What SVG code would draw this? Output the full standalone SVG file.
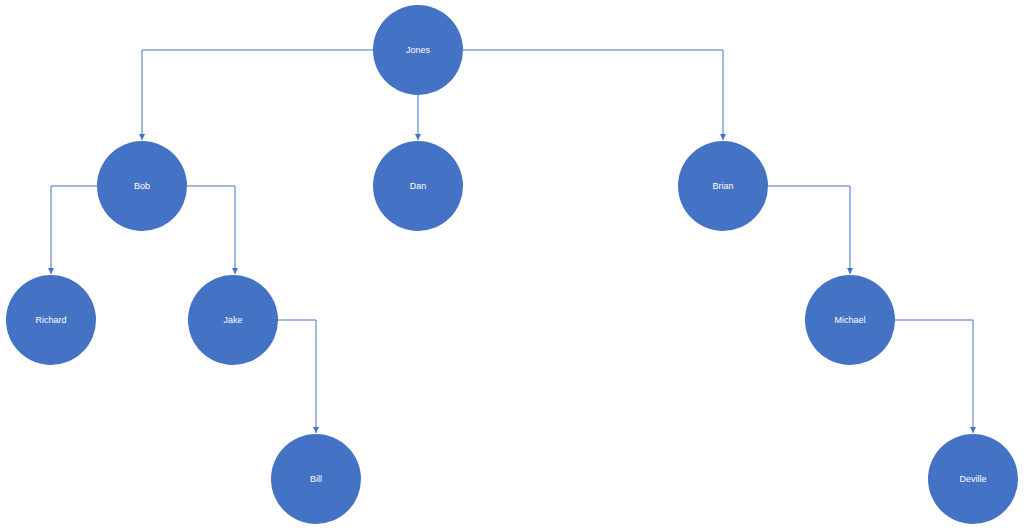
<svg xmlns="http://www.w3.org/2000/svg" width="1024" height="530" viewBox="0 0 1024 530">
<style>
.n circle{fill:#4472C4}
.n text{fill:#fff;font-family:"Liberation Sans",Arial,sans-serif;font-size:9px;text-anchor:middle;dominant-baseline:central}
.c path{fill:none;stroke:#4472C4;stroke-width:1;marker-end:url(#a)}
</style>
<defs><marker id="a" markerWidth="8" markerHeight="8" refX="6" refY="3" orient="auto" markerUnits="userSpaceOnUse"><path d="M0,0L6,3L0,6z" fill="#4472C4"/></marker></defs>
<rect width="1024" height="530" fill="#fff"/>
<g class="c">
<path d="M373,50H142V140"/>
<path d="M463,50H723V140"/>
<path d="M418,95V140"/>
<path d="M97,186H51V274"/>
<path d="M187,186H235V274"/>
<path d="M278,320H316V433"/>
<path d="M768,186H850V274"/>
<path d="M895,320H973V433"/>
</g>
<g id="jones" class="n"><circle cx="418" cy="50" r="45"/><text x="418" y="50">Jones</text></g>
<g id="bob" class="n"><circle cx="142" cy="186" r="45"/><text x="142" y="186">Bob</text></g>
<g id="dan" class="n"><circle cx="418" cy="186" r="45"/><text x="418" y="186">Dan</text></g>
<g id="brian" class="n"><circle cx="723" cy="186" r="45"/><text x="723" y="186">Brian</text></g>
<g id="richard" class="n"><circle cx="51" cy="320" r="45"/><text x="51" y="320">Richard</text></g>
<g id="jake" class="n"><circle cx="233" cy="320" r="45"/><text x="233" y="320">Jake</text></g>
<g id="michael" class="n"><circle cx="850" cy="320" r="45"/><text x="850" y="320">Michael</text></g>
<g id="bill" class="n"><circle cx="316" cy="479" r="45"/><text x="316" y="479">Bill</text></g>
<g id="deville" class="n"><circle cx="973" cy="479" r="45"/><text x="973" y="479">Deville</text></g>
</svg>
